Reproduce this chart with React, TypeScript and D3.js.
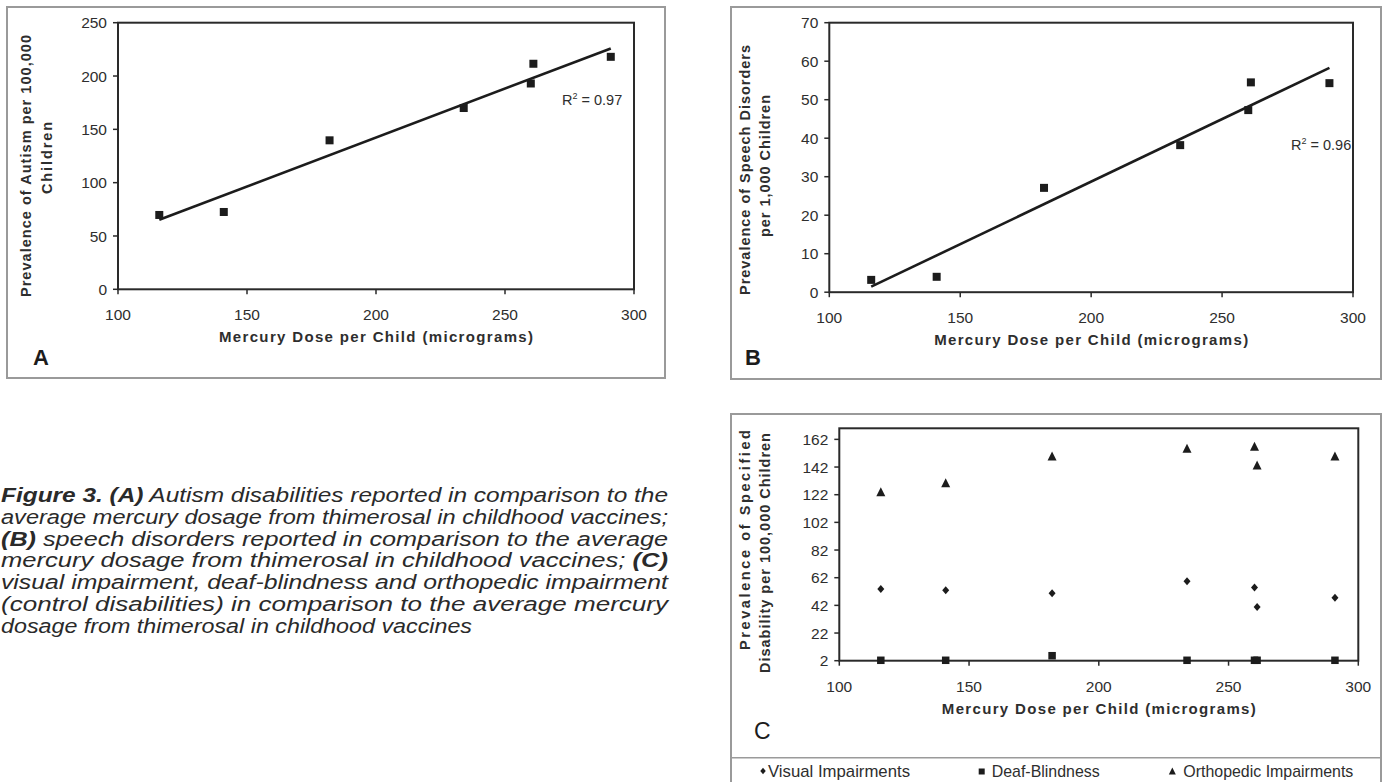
import React from "react";
import * as d3 from "d3";

// ---------- data ----------
const doses = [116, 141, 182, 234, 260, 261, 291];
const autismPrev = [69.7, 72.5, 139.7, 170, 193, 211.5, 218];
const speechPrev = [3.2, 4.0, 27.1, 38.2, 47.3, 54.5, 54.3];
const visualPrev = [53.8, 52.9, 50.7, 59.4, 55.0, 40.8, 47.5];
const deafBlindPrev = [2.3, 2.3, 5.6, 2.3, 2.3, 2.3, 2.3];
const orthoPrev = [124.1, 130.6, 149.9, 155.5, 157.1, 143.4, 149.9];

const xTicks = [100, 150, 200, 250, 300];
const yTicksA = [0, 50, 100, 150, 200, 250];
const yTicksB = [0, 10, 20, 30, 40, 50, 60, 70];
const yTicksC = [2, 22, 42, 62, 82, 102, 122, 142, 162];

const xTitle = "Mercury Dose per Child (micrograms)";
const yTitleA = ["Prevalence of Autism per 100,000", "Children"];
const yTitleB = ["Prevalence of Speech Disorders", "per 1,000 Children"];
const yTitleC = ["Prevalence of Specified", "Disability per 100,000 Children"];
const legendLabels = ["Visual Impairments", "Deaf-Blindness", "Orthopedic Impairments"];

const captionLines: { t: string; b?: boolean }[][] = [
  [{ t: "Figure 3. (A)", b: true }, { t: " Autism disabilities reported in comparison to the" }],
  [{ t: "average mercury dosage from thimerosal in childhood vaccines;" }],
  [{ t: "(B)", b: true }, { t: " speech disorders reported in comparison to the average" }],
  [{ t: "mercury dosage from thimerosal in childhood vaccines; " }, { t: "(C)", b: true }],
  [{ t: "visual impairment, deaf-blindness and orthopedic impairment" }],
  [{ t: "(control disabilities) in comparison to the average mercury" }],
  [{ t: "dosage from thimerosal in childhood vaccines" }],
];

// ---------- helpers ----------
const FONT = "'Liberation Sans', Arial, Helvetica, sans-serif";
const INK = "#1c1c1c";
const TXT = "#2e2e2e";

function linreg(xs: number[], ys: number[]) {
  const mx = d3.mean(xs) as number;
  const my = d3.mean(ys) as number;
  let sxy = 0, sxx = 0, syy = 0;
  xs.forEach((x, i) => {
    const dx = x - mx, dy = ys[i] - my;
    sxy += dx * dy; sxx += dx * dx; syy += dy * dy;
  });
  const slope = sxy / sxx;
  return { slope, intercept: my - slope * mx, r2: (sxy * sxy) / (sxx * syy) };
}

type Plot = { l: number; r: number; t: number; b: number };

function Axes({ plot, x, y, yTicks, yTitle, yTitleX, yTitleC, yTitleLen }: any) {
  return (
    <g>
      <rect x={plot.l} y={plot.t} width={plot.r - plot.l} height={plot.b - plot.t}
        fill="none" stroke="#2a2a2a" strokeWidth={2} />
      {yTicks.map((t: number) => (
        <g key={"y" + t}>
          <line x1={plot.l - 5} x2={plot.l} y1={y(t)} y2={y(t)} stroke="#2a2a2a" strokeWidth={1.5} />
          <text x={plot.l - 11} y={y(t)} dy="0.36em" textAnchor="end" fontSize={15.5}
            fill={TXT} fontFamily={FONT}>{t}</text>
        </g>
      ))}
      {xTicks.map((t) => (
        <g key={"x" + t}>
          <line x1={x(t)} x2={x(t)} y1={plot.b} y2={plot.b + 5} stroke="#2a2a2a" strokeWidth={1.5} />
          <text x={x(t)} y={plot.b + 31} textAnchor="middle" fontSize={15.5}
            fill={TXT} fontFamily={FONT}>{t}</text>
        </g>
      ))}
      <text x={(plot.l + plot.r) / 2} y={plot.b + 53} textAnchor="middle" fontSize={15}
        fontWeight="bold" fill={TXT} fontFamily={FONT} textLength={314} lengthAdjust="spacing">{xTitle}</text>
      {yTitle.map((s: string, i: number) => (
        <text key={s} transform={`translate(${yTitleX[i]},${yTitleC[i]}) rotate(-90)`} dy="0.36em"
          textAnchor="middle" fontSize={14.5} fontWeight="bold" fill={TXT} fontFamily={FONT}
          textLength={yTitleLen[i]} lengthAdjust="spacing">{s}</text>
      ))}
    </g>
  );
}

function Square({ cx, cy, s }: { cx: number; cy: number; s: number }) {
  return <rect x={cx - s / 2} y={cy - s / 2} width={s} height={s} fill={INK} />;
}
function Diamond({ cx, cy, w, h }: { cx: number; cy: number; w: number; h: number }) {
  return <path d={`M${cx},${cy - h / 2}L${cx + w / 2},${cy}L${cx},${cy + h / 2}L${cx - w / 2},${cy}Z`} fill={INK} />;
}
function Triangle({ cx, cy, w, h }: { cx: number; cy: number; w: number; h: number }) {
  return <path d={`M${cx},${cy - h / 2}L${cx + w / 2},${cy + h / 2}L${cx - w / 2},${cy + h / 2}Z`} fill={INK} />;
}

function RegressionPanel({ plot, yDomain, yTicks, values, yTitle, yTitleX, yTitleC, yTitleLen, r2Pos }: any) {
  const x = d3.scaleLinear().domain([100, 300]).range([plot.l, plot.r]);
  const y = d3.scaleLinear().domain(yDomain).range([plot.b, plot.t]);
  const fit = linreg(doses, values);
  const x0 = d3.min(doses) as number, x1 = d3.max(doses) as number;
  const line = d3.line<number>().x((d) => x(d)).y((d) => y(fit.intercept + fit.slope * d));
  return (
    <g>
      <Axes plot={plot} x={x} y={y} yTicks={yTicks} yTitle={yTitle} yTitleX={yTitleX}
        yTitleC={yTitleC} yTitleLen={yTitleLen} />
      {doses.map((d, i) => <Square key={i} cx={x(d)} cy={y(values[i])} s={8} />)}
      <path d={line([x0, x1]) as string} stroke={INK} strokeWidth={2.6} fill="none" />
      <text x={r2Pos[0]} y={r2Pos[1]} fontSize={14.5} fill={TXT} fontFamily={FONT}>
        R<tspan dy={-6} fontSize={9}>2</tspan><tspan dy={6}> = {fit.r2.toFixed(2)}</tspan>
      </text>
    </g>
  );
}

export default function App() {
  const plotA: Plot = { l: 118, r: 634, t: 22.7, b: 289.3 };
  const plotB: Plot = { l: 829.3, r: 1353, t: 22.7, b: 292.2 };
  const plotC: Plot = { l: 839.3, r: 1358.3, t: 428.3, b: 660.7 };
  const xC = d3.scaleLinear().domain([100, 300]).range([plotC.l, plotC.r]);
  const yC = d3.scaleLinear().domain([2, 170]).range([plotC.b, plotC.t]);

  return (
    <svg width={1385} height={782} style={{ position: "absolute", left: 0, top: 0, background: "#fff" }}>
      <rect x={0} y={0} width={1385} height={782} fill="#fff" />
      {/* panel frames */}
      <rect x={7} y={7} width={658} height={371} fill="none" stroke="#9a9a9a" strokeWidth={2} />
      <rect x={731} y={7} width={650} height={372} fill="none" stroke="#9a9a9a" strokeWidth={2} />
      <rect x={731} y={414} width={650} height={390} fill="none" stroke="#9a9a9a" strokeWidth={2} />
      <line x1={731} x2={1381} y1={757.7} y2={757.7} stroke="#9a9a9a" strokeWidth={1.5} />

      {/* Panel A */}
      <RegressionPanel plot={plotA} yDomain={[0, 250]} yTicks={yTicksA} values={autismPrev}
        yTitle={yTitleA} yTitleX={[25.7, 46.3]} yTitleC={[166, 158]} yTitleLen={[262, 72]}
        r2Pos={[562, 105]} />
      <text x={33} y={365} fontSize={22} fontWeight="bold" fill={INK} fontFamily={FONT}>A</text>

      {/* Panel B */}
      <RegressionPanel plot={plotB} yDomain={[0, 70]} yTicks={yTicksB} values={speechPrev}
        yTitle={yTitleB} yTitleX={[745, 765]} yTitleC={[170, 166]} yTitleLen={[250, 142]}
        r2Pos={[1291, 150]} />
      <text x={745} y={365} fontSize={22} fontWeight="bold" fill={INK} fontFamily={FONT}>B</text>

      {/* Panel C */}
      <Axes plot={plotC} x={xC} y={yC} yTicks={yTicksC} yTitle={yTitleC} yTitleX={[745, 765]}
        yTitleC={[540, 553]} yTitleLen={[220, 240]} />
      {doses.map((d, i) => <Diamond key={"v" + i} cx={xC(d)} cy={yC(visualPrev[i])} w={7} h={8} />)}
      {doses.map((d, i) => <Square key={"s" + i} cx={xC(d)} cy={yC(deafBlindPrev[i])} s={7.5} />)}
      {doses.map((d, i) => <Triangle key={"t" + i} cx={xC(d)} cy={yC(orthoPrev[i])} w={9} h={9} />)}
      <text x={754} y={739} fontSize={23} fill={INK} fontFamily={FONT}>C</text>

      {/* legend */}
      <Diamond cx={763} cy={771} w={5.5} h={6.5} />
      <text x={768} y={777} fontSize={17} fill={TXT} fontFamily={FONT} textLength={142} lengthAdjust="spacingAndGlyphs">{legendLabels[0]}</text>
      <Square cx={981.7} cy={771.5} s={6} />
      <text x={991.7} y={777} fontSize={17} fill={TXT} fontFamily={FONT} textLength={108} lengthAdjust="spacingAndGlyphs">{legendLabels[1]}</text>
      <Triangle cx={1172.3} cy={771} w={7} h={7} />
      <text x={1183.3} y={777} fontSize={17} fill={TXT} fontFamily={FONT} textLength={170} lengthAdjust="spacingAndGlyphs">{legendLabels[2]}</text>

      {/* caption */}
      {captionLines.map((segs, i) => (
        <text key={i} x={1} y={502 + i * 21.8} fontSize={20} fontStyle="italic" fill="#2a2a2a"
          fontFamily={FONT} textLength={i < 6 ? 667 : 471} lengthAdjust="spacingAndGlyphs">
          {segs.map((s, j) => (
            <tspan key={j} fontWeight={s.b ? "bold" : "normal"}>{s.t}</tspan>
          ))}
        </text>
      ))}
    </svg>
  );
}
